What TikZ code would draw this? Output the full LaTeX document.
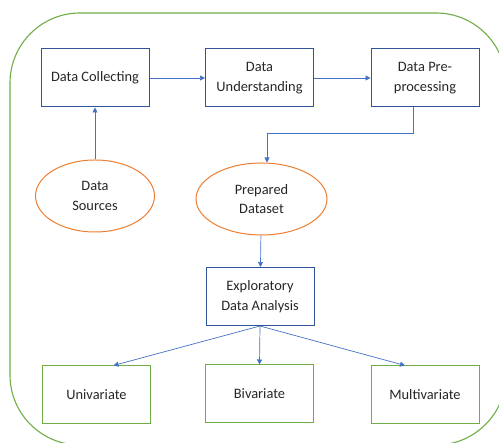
\documentclass[tikz,border=0pt]{standalone}
\usepackage{fontspec}
\setmainfont{Carlito}
\usetikzlibrary{arrows.meta,positioning,shapes}
\definecolor{boxblue}{RGB}{47,85,151}
\definecolor{flowblue}{RGB}{68,114,196}
\definecolor{srcorange}{RGB}{237,125,49}
\definecolor{leafgreen}{RGB}{112,173,71}
\definecolor{txtgray}{RGB}{38,38,38}

\begin{document}
\begin{tikzpicture}[x=1pt, y=1pt,
    stage/.style={draw=boxblue, line width=1pt, minimum width=108pt, minimum height=58pt,
      align=center, text=txtgray, font=\fontsize{14.4}{19.5}\selectfont},
    source/.style={ellipse, draw=srcorange, line width=1pt, inner sep=0pt,
      align=center, text=txtgray, font=\fontsize{14.4}{19.5}\selectfont},
    leaf/.style={draw=leafgreen, line width=1pt, minimum width=108pt, minimum height=58pt,
      align=center, text=txtgray, font=\fontsize{14.4}{19.5}\selectfont},
    flow/.style={draw=flowblue, line width=0.7pt, -{Triangle[width=5pt,length=5pt]}}]
    \useasboundingbox (0,0) rectangle (499,443);
    % Frame around the whole workflow
    \draw[leafgreen, line width=1.1pt, rounded corners=70pt] (10,430) rectangle (506,-2);
    % Top row of stages
    \node[stage] (collect) at (95,365) {Data Collecting};
    \node[stage] (understand) at (259.5,365) {Data\\Understanding};
    \node[stage] (prep) at (425,365) {Data Pre-\\processing};
    % Inputs and outputs
    \node[source, minimum width=119pt, minimum height=72pt] (sources) at (95,247) {Data\\Sources};
    \node[source, minimum width=131pt, minimum height=72pt] (dataset) at (261.5,244) {Prepared\\Dataset};
    % Analysis and its three branches
    \node[stage] (eda) at (260,146.5) {Exploratory\\Data Analysis};
    \node[leaf] (uni) at (96.5,48) {Univariate};
    \node[leaf] (bi) at (259.5,49) {Bivariate};
    \node[leaf] (multi) at (425,48) {Multivariate};
    % Connectors
    \draw[flow] (collect) -- (understand);
    \draw[flow] (understand) -- (prep);
    \draw[flow] (sources) -- (collect);
    \draw[flow] ([xshift=-12pt]prep.south) -- ++(0,-26) -| ([xshift=5.5pt]dataset.north);
    \draw[flow] (dataset) -- (eda);
    \draw[flow] (eda.south) -- ([xshift=17pt]uni.north);
    \draw[flow] (eda.south) -- (bi.north);
    \draw[flow] (eda.south) -- ([xshift=-20pt]multi.north);
\end{tikzpicture}
\end{document}
